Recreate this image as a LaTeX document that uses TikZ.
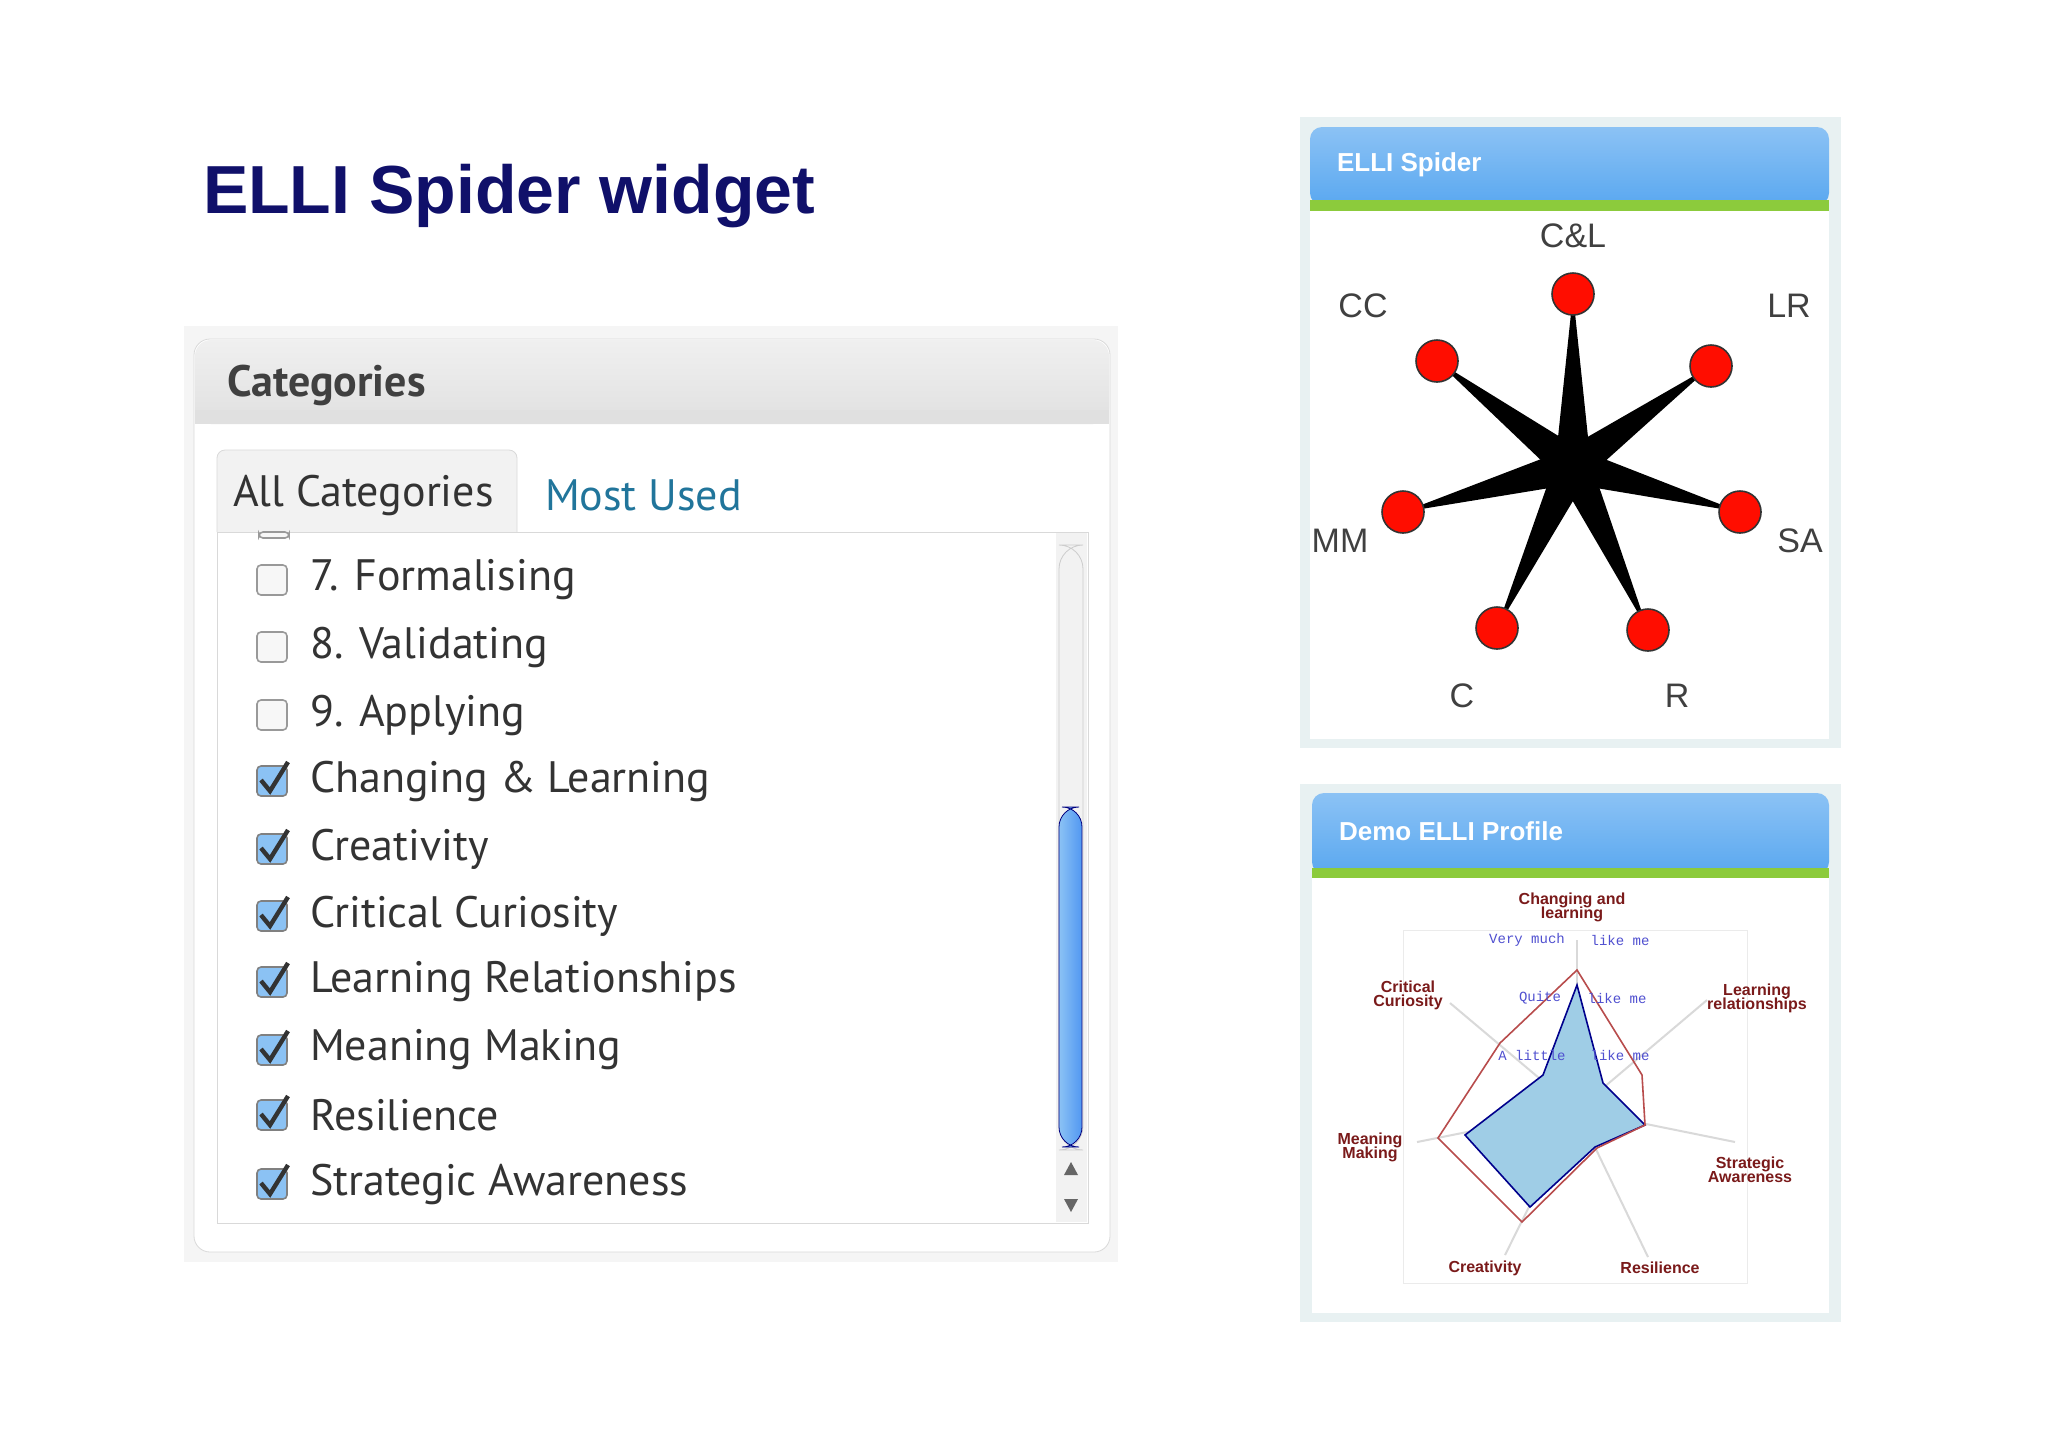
\documentclass[tikz,border=0pt]{standalone}
\usepackage{fontspec}
\usetikzlibrary{calc}
\setmainfont{Liberation Sans}
\newfontfamily\uifont{PT Sans}
\newfontfamily\monof{Liberation Mono}
\definecolor{navy}{HTML}{10106A}
\definecolor{wpblue}{HTML}{21759B}
\definecolor{hdrblue}{HTML}{5AA8F0}
\definecolor{hdrgreen}{HTML}{8CCB3C}
\definecolor{panelbg}{HTML}{E8F1F2}
\definecolor{dred}{HTML}{7A1A1A}
\definecolor{scaleblue}{HTML}{5050D0}
\definecolor{fillblue}{HTML}{9FCDE6}
\tikzset{
 item/.style={anchor=west,font=\uifont\fontsize{22}{24}\selectfont,text=black!80},
 cbox/.style={draw=black!40,fill=black!3,rounded corners=2,line width=0.8pt},
 chk/.style={draw=black!50,fill=hdrblue!70,rounded corners=2,line width=0.8pt},
 dot/.style={circle,fill=red!90!orange,draw=black!80,line width=0.8pt,minimum size=21pt,inner sep=0},
 slab/.style={font=\fontsize{17}{19}\selectfont,text=black!75},
 plab/.style={font=\bfseries\fontsize{8}{9}\selectfont,text=dred,align=center},
 sclab/.style={font=\monof\fontsize{7}{8}\selectfont,text=scaleblue},
}
\begin{document}
\begin{tikzpicture}[x=0.5pt,y=-0.5pt]
\useasboundingbox (0,0) rectangle (2048,1447);
\fill[white] (0,0) rectangle (2048,1447);
% title
\node[anchor=west,font=\bfseries\fontsize{34}{40}\selectfont,text=navy] (title) at (196,196) {ELLI Spider widget};
% left panel
\fill[black!4] (184,326) rectangle (1118,1262);
\draw[black!15,fill=white,rounded corners=8] (194,339) rectangle (1110,1252);
\shade[top color=black!6,bottom color=black!12,rounded corners=8] (195,340) rectangle (1109,424);
\fill[black!12] (195,410) rectangle (1109,424);
\node[anchor=west,font=\uifont\bfseries\fontsize{22}{24}\selectfont,text=black!75] (cat) at (220,385) {Categories};
\draw[black!15,fill=black!5,rounded corners=4] (217,532) -- (217,450) -- (517,450) -- (517,532);
\node[anchor=west,font=\uifont\fontsize{22}{24}\selectfont,text=black!80] (allc) at (226,495) {All Categories};
\node[anchor=west,font=\uifont\fontsize{22}{24}\selectfont,text=wpblue] (most) at (538,495) {Most Used};
\draw[black!15] (217,532) rectangle (1088,1223);
% scrollbar
\fill[black!5] (1056,533) rectangle (1087,1222);
\draw[black!20,rounded corners=12] (1059,545) rectangle (1083,1150);
\shade[left color=hdrblue!70,right color=hdrblue!90!blue,rounded corners=10,draw=blue!50!black] (1059,807) rectangle (1082,1147);
\fill[black!60] (1064,1175) -- (1078,1175) -- (1071,1162) -- cycle;
\fill[black!60] (1064,1199) -- (1078,1199) -- (1071,1212) -- cycle;
% cut-off item
\draw[cbox] (259,532) rectangle (289,538);
% items
\foreach \y/\t in {580/7. Formalising,647/8. Validating,715/9. Applying}{
  \draw[cbox] (257,\y-15) rectangle (287,\y+15);
  \node[item] at (303,\y) {\t};
}
\foreach \y/\t in {781/Changing \& Learning,849/Creativity,916/Critical Curiosity,982/Learning Relationships,1050/Meaning Making,1115/Resilience,1184/Strategic Awareness}{
  \draw[chk] (257,\y-15) rectangle (287,\y+15);
  \draw[black!80,line width=2.2pt] (261,\y-1) -- (270,\y+10) -- (288,\y-19);
  \node[item] at (303,\y) {\t};
}
% spider panel
\begin{scope}[xshift=-3pt]
\fill[panelbg] (1306,117) rectangle (1847,748);
\fill[white] (1316,211) rectangle (1835,739);
\shade[top color=hdrblue!70,bottom color=hdrblue,rounded corners=6] (1316,127) rectangle (1835,205);
\fill[hdrgreen] (1316,200) rectangle (1835,211);
\node[anchor=west,font=\bfseries\fontsize{13}{15}\selectfont,text=white] (sp) at (1336,165) {ELLI Spider};
\coordinate (o) at (1579,466);
\foreach \x/\y in {1579/294,1717/366,1746/512,1654/630,1503/628,1409/512,1443/361}{
  \fill[black] ($(o)!9pt!90:(\x,\y)$) -- (\x,\y) -- ($(o)!9pt!-90:(\x,\y)$) -- cycle;
}
\foreach \n/\x/\y in {cl/1579/294,lr/1717/366,sa/1746/512,r/1654/630,c/1503/628,mm/1409/512,cc/1443/361}{
  \node[dot] (\n) at (\x,\y) {};
}
\node[slab] (lcl) at (1579,236) {C\&L};
\node[slab] (lcc) at (1369,306) {CC};
\node[slab] (llr) at (1795,306) {LR};
\node[slab] (lmm) at (1346,541) {MM};
\node[slab] (lsa) at (1806,541) {SA};
\node[slab] (lc) at (1468,696) {C};
\node[slab] (lr) at (1683,696) {R};
% profile panel
\fill[panelbg] (1306,784) rectangle (1847,1322);
\fill[white] (1318,878) rectangle (1835,1313);
\shade[top color=hdrblue!70,bottom color=hdrblue,rounded corners=6] (1318,793) rectangle (1835,874);
\fill[hdrgreen] (1318,868) rectangle (1835,878);
\node[anchor=west,font=\bfseries\fontsize{13}{15}\selectfont,text=white] (dp) at (1338,831) {Demo ELLI Profile};
\end{scope}
\begin{scope}[xshift=10pt,yshift=-5pt]
\draw[black!8] (1383,920) rectangle (1727,1273);
\coordinate (pc) at (1557,1100);
\foreach \x/\y in {1557/930,1687/990,1715/1132,1628/1247,1485/1245,1397/1132,1430/993}{
  \draw[black!15,line width=1pt] (pc) -- (\x,\y);
}
\fill[fillblue,draw=blue!55!black,line width=0.8pt] (1557,975) -- (1583,1073) -- (1625,1115) -- (1575,1137) -- (1510,1197) -- (1445,1125) -- (1523,1065) -- cycle;
\draw[red!60!black!70,line width=0.8pt] (1557,960) -- (1622,1065) -- (1625,1115) -- (1577,1138) -- (1502,1212) -- (1418,1128) -- (1480,1033) -- cycle;
\node[plab] (p1) at (1552,897) {Changing and\\[-2pt]learning};
\node[plab] (p2) at (1388,985) {Critical\\[-2pt]Curiosity};
\node[plab] (p3) at (1737,988) {Learning\\[-2pt]relationships};
\node[plab] (p4) at (1350,1137) {Meaning\\[-2pt]Making};
\node[plab] (p5) at (1730,1160) {Strategic\\[-2pt]Awareness};
\node[plab] (p6) at (1465,1258) {Creativity};
\node[plab] (p7) at (1640,1258) {Resilience};
\node[sclab] (s1) at (1507,930) {Very much};
\node[sclab] (s2) at (1600,930) {like me};
\node[sclab] (s3) at (1520,988) {Quite};
\node[sclab] (s4) at (1597,988) {like me};
\node[sclab] (s5) at (1512,1045) {A little};
\node[sclab] (s6) at (1600,1045) {like me};
\end{scope}
\end{tikzpicture}
\end{document}
